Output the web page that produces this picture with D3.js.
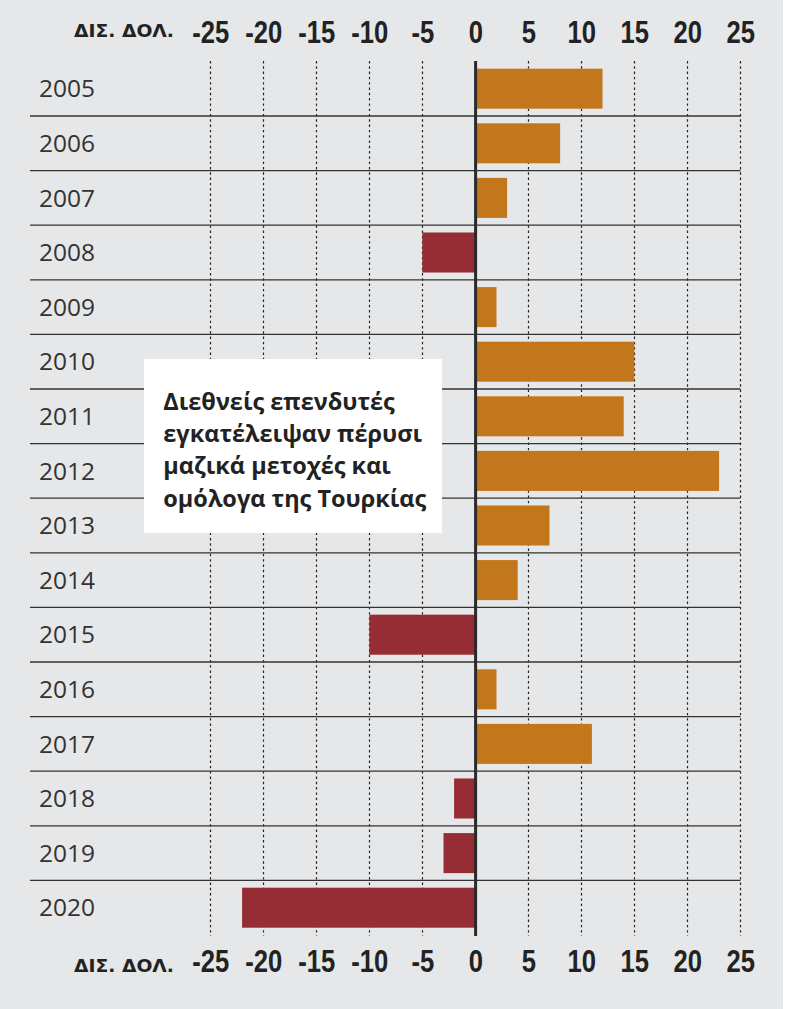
<!DOCTYPE html>
<html>
<head>
<meta charset="utf-8">
<script src="https://cdn.jsdelivr.net/npm/d3@7"></script>
<style>
  body { margin: 0; background: #fff; }
  svg { display: block; }
</style>
</head>
<body>
<script>
(function(d3) {
  // data
  var years = ["2005", "2006", "2007", "2008", "2009", "2010", "2011", "2012",
               "2013", "2014", "2015", "2016", "2017", "2018", "2019", "2020"];
  var flows = [12, 8, 3, -5, 2, 15, 14, 23, 7, 4, -10, 2, 11, -2, -3, -22];
  var tickValues = [-25, -20, -15, -10, -5, 0, 5, 10, 15, 20, 25];
  var unitLabel = "ΔΙΣ. ΔΟΛ.";
  var noteLines = ["Διεθνείς επενδυτές", "εγκατέλειψαν πέρυσι",
                   "μαζικά μετοχές και", "ομόλογα της Τουρκίας"];

  var width = 799, height = 1009;
  var orange = "#c2771c", red = "#962d34", ink = "#2a2a2a";

  var svg = d3.select("body").append("svg")
    .attr("width", width).attr("height", height);

  svg.append("rect").attr("width", 783).attr("height", height).attr("fill", "#e6e7e9");

  var x = d3.scaleLinear().domain([-25, 25]).range([210.3, 740.3]);
  var y = d3.scaleBand().domain(years).range([61.4, 935])
    .paddingInner(0.267).paddingOuter(0.1335);
  var step = y.step();
  var gap = step * 0.267 / 2;

  // dotted gridlines
  svg.append("g").selectAll("line").data(tickValues.filter(function(d) { return d !== 0; }))
    .enter().append("line")
    .attr("x1", function(d) { return Math.round(x(d)) + 0.5; })
    .attr("x2", function(d) { return Math.round(x(d)) + 0.5; })
    .attr("y1", 61).attr("y2", 936)
    .attr("stroke", "#222").attr("stroke-width", 1.2)
    .attr("stroke-dasharray", "2.4,2.9");

  // row separators
  svg.append("g").selectAll("line").data(years.slice(1))
    .enter().append("line")
    .attr("x1", 30).attr("x2", 740.5)
    .attr("y1", function(d) { return y(d) - gap; })
    .attr("y2", function(d) { return y(d) - gap; })
    .attr("stroke", "#333").attr("stroke-width", 1.3);

  // bars
  svg.append("g").selectAll("rect").data(flows)
    .enter().append("rect")
    .attr("x", function(d) { return d >= 0 ? x(0) : x(d); })
    .attr("y", function(d, i) { return y(years[i]); })
    .attr("width", function(d) { return Math.abs(x(d) - x(0)); })
    .attr("height", y.bandwidth())
    .attr("fill", function(d) { return d >= 0 ? orange : red; });

  // zero line
  svg.append("line")
    .attr("x1", x(0) + 0.3).attr("x2", x(0) + 0.3)
    .attr("y1", 61).attr("y2", 936)
    .attr("stroke", ink).attr("stroke-width", 3);

  // year labels
  svg.append("g").selectAll("text").data(years)
    .enter().append("text")
    .attr("x", 39)
    .attr("y", function(d) { return y(d) + y.bandwidth() / 2 + 8.6; })
    .attr("font-family", "'Open Sans', sans-serif")
    .attr("font-size", 24.5)
    .attr("fill", "#333")
    .text(function(d) { return d; });

  // axes top and bottom
  function styleAxis(g) {
    g.select(".domain").remove();
    g.selectAll(".tick line").remove();
    g.selectAll(".tick text")
      .attr("y", 0).attr("dy", 0)
      .attr("font-family", "'Liberation Sans Narrow', 'Liberation Sans', sans-serif")
      .attr("font-weight", "bold")
      .attr("font-size", 30.5)
      .attr("fill", "#222")
      .attr("transform", "scale(0.84,1)");
  }
  var fmt = function(d) { return String(d); };
  svg.append("g").attr("transform", "translate(0,42.7)")
    .call(d3.axisTop(x).tickValues(tickValues).tickSize(0).tickFormat(fmt))
    .call(styleAxis);
  svg.append("g").attr("transform", "translate(0,971.7)")
    .call(d3.axisBottom(x).tickValues(tickValues).tickSize(0).tickFormat(fmt))
    .call(styleAxis);

  [37.3, 971.7].forEach(function(by) {
    svg.append("text")
      .attr("x", 74).attr("y", by)
      .attr("font-family", "'DejaVu Sans Condensed', 'DejaVu Sans', sans-serif")
      .attr("font-weight", "bold")
      .attr("font-size", 17)
      .attr("fill", "#222")
      .attr("textLength", 100).attr("lengthAdjust", "spacingAndGlyphs")
      .text(unitLabel);
  });

  // annotation box
  svg.append("rect")
    .attr("x", 144).attr("y", 359).attr("width", 298).attr("height", 174)
    .attr("fill", "#fff");
  var note = svg.append("g");
  note.selectAll("text").data(noteLines)
    .enter().append("text")
    .attr("x", 0)
    .attr("y", function(d, i) { return 410 + i * 32.2; })
    .attr("font-family", "'Open Sans', sans-serif")
    .attr("font-weight", "bold")
    .attr("font-size", 23.4)
    .attr("fill", "#222")
    .text(function(d) { return d; });
  var widest = d3.max(note.selectAll("text").nodes(), function(n) { return n.getComputedTextLength(); });
  note.attr("transform", "translate(163.3,0) scale(" + (263 / widest) + ",1)");
})(d3);
</script>
</body>
</html>
